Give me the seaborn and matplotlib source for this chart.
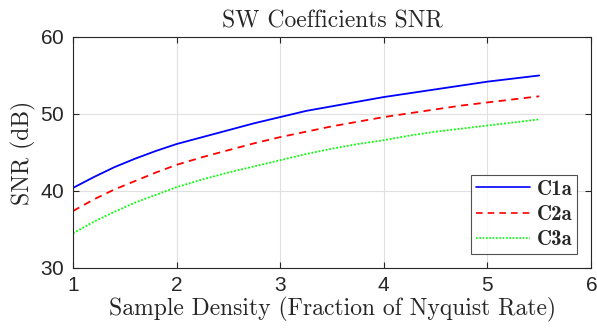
import numpy as np
import pandas as pd
import matplotlib
matplotlib.use("Agg")
import matplotlib.pyplot as plt
import seaborn as sns

x = [1.0, 1.2, 1.4, 1.6, 1.8, 2.0, 2.25, 2.5, 2.75, 3.0, 3.25, 3.5, 3.75,
     4.0, 4.25, 4.5, 4.75, 5.0, 5.25, 5.5]
c1a = [40.4, 41.8, 43.1, 44.2, 45.2, 46.1, 47.0, 47.9, 48.8, 49.6, 50.4, 51.0,
       51.6, 52.2, 52.7, 53.2, 53.7, 54.2, 54.6, 55.0]
c2a = [37.4, 38.9, 40.2, 41.3, 42.4, 43.4, 44.4, 45.3, 46.2, 47.0, 47.7, 48.4,
       49.0, 49.6, 50.1, 50.6, 51.1, 51.5, 51.9, 52.3]
c3a = [34.5, 36.0, 37.3, 38.5, 39.5, 40.5, 41.5, 42.4, 43.2, 44.0, 44.8, 45.5,
       46.1, 46.6, 47.2, 47.7, 48.1, 48.5, 48.9, 49.3]
labels = ["C1a", "C2a", "C3a"]
xticks = [1, 2, 3, 4, 5, 6]
yticks = [30, 40, 50, 60]

sns.set_theme(style="whitegrid")
plt.rcParams["axes.formatter.use_mathtext"] = True

fig = plt.figure(figsize=(5.97, 3.32), dpi=100)
ax = fig.add_axes([0.1223, 0.1928, 0.8677, 0.6958])

df = pd.DataFrame({"x": x * 3, "y": c1a + c2a + c3a,
                   "series": sum([[l] * len(x) for l in labels], [])})
palette = {"C1a": "#0000ff", "C2a": "#ff0000", "C3a": "#00ff00"}
dashes = {"C1a": "", "C2a": (4, 3), "C3a": (1, 1)}
sns.lineplot(data=df, x="x", y="y", hue="series", style="series",
             palette=palette, dashes=dashes, linewidth=1.3, ax=ax, legend=True)

ax.set_xlim(1, 6)
ax.set_ylim(30, 60)
ax.set_xticks(xticks)
ax.set_yticks(yticks)
ax.set_facecolor("white")
ax.grid(True, color="#e0e0e0", linewidth=0.8)
for s in ax.spines.values():
    s.set_color("#262626")
    s.set_linewidth(0.8)
    s.set_visible(True)
ax.tick_params(direction="in", length=4, width=0.8, color="#262626",
               top=True, right=True, bottom=True, left=True,
               labelsize=15, labelcolor="#262626", pad=6)
for t in ax.get_xticklabels() + ax.get_yticklabels():
    t.set_fontfamily("Liberation Sans")

ax.set_title("SW Coefficients SNR", fontfamily="cmr10", fontsize=17, pad=7,
             color="#262626")
ax.set_xlabel("Sample Density (Fraction of Nyquist Rate)", fontfamily="cmr10",
              fontsize=17, color="#262626", labelpad=1)
ax.set_ylabel("SNR (dB)", fontfamily="cmr10", fontsize=17, color="#262626",
              labelpad=3)

leg = ax.legend(loc="lower right", prop={"family": "cmb10", "size": 15},
                frameon=True, fancybox=False, edgecolor="#262626",
                borderaxespad=0.65, handlelength=2.6, labelspacing=0.3,
                borderpad=0.25, handletextpad=0.3)
leg.get_frame().set_linewidth(0.8)
for line in leg.get_lines():
    line.set_linewidth(1.2)

fig.savefig("out.png", dpi=100, facecolor="white")
